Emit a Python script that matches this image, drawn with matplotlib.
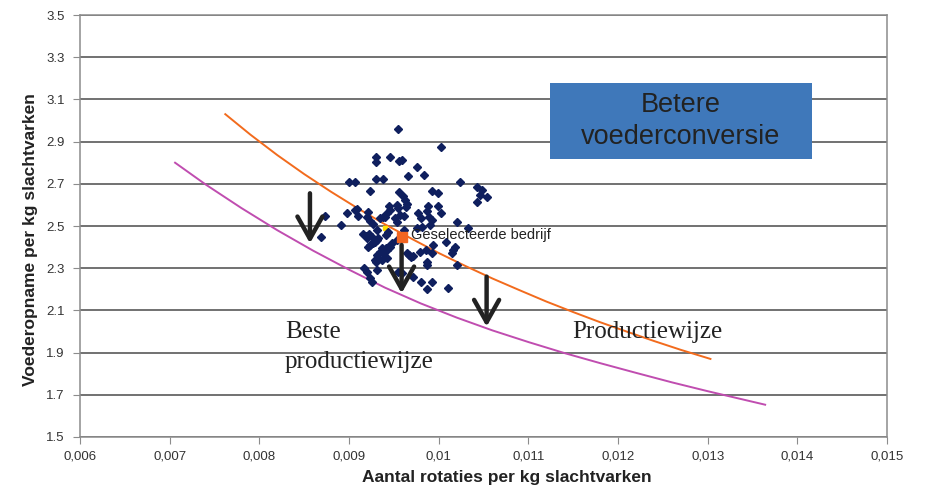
import matplotlib
matplotlib.use("Agg")
import matplotlib.pyplot as plt
from matplotlib.ticker import FuncFormatter, FixedLocator, MultipleLocator
from matplotlib.patches import Rectangle

plt.rcParams['font.family'] = ['Liberation Sans', 'DejaVu Sans']

# bedrijven: rotaties per kg (x, x1000) en voederopname per kg (y)
rot = [9.545, 10.025, 9.300, 9.300, 9.456, 9.556, 9.590, 9.757, 9.835, 9.657,
       9.300, 9.378, 8.999, 9.066, 10.236, 10.426, 10.482, 10.537, 10.459, 10.426,
       9.233, 9.556, 9.601, 9.623, 9.645, 9.924, 9.991, 9.445, 9.534, 9.634,
       9.088, 9.880, 9.991, 8.731, 8.910, 8.687, 8.977, 9.066, 9.099, 9.211,
       9.200, 9.344, 9.378, 9.456, 9.423, 9.400, 9.545, 9.567, 9.512, 9.534,
       9.612, 9.233, 9.266, 9.311, 9.155, 9.188, 9.222, 9.255, 9.200, 9.434,
       9.411, 9.768, 9.802, 9.868, 9.891, 9.924, 9.902, 10.025, 9.612, 9.757,
       9.813, 10.203, 10.326, 9.322, 9.289, 9.266, 9.233, 9.211, 9.311, 9.367,
       9.411, 9.434, 9.344, 9.378, 9.423, 9.456, 9.478, 9.534, 9.645, 9.690,
       9.668, 9.712, 9.790, 9.857, 9.924, 10.080, 10.158, 10.147, 9.311, 9.322,
       9.289, 9.367, 9.300, 9.423, 9.868, 9.868, 10.203, 9.311, 9.166, 9.200,
       9.233, 9.255, 9.545, 9.590, 9.712, 9.802, 9.924, 9.868, 10.103, 9.935,
       10.181]
voer = [2.960, 2.874, 2.827, 2.803, 2.827, 2.808, 2.813, 2.780, 2.742, 2.737,
        2.723, 2.723, 2.709, 2.709, 2.709, 2.685, 2.671, 2.637, 2.647, 2.614,
        2.666, 2.661, 2.642, 2.623, 2.604, 2.666, 2.656, 2.595, 2.600, 2.590,
        2.581, 2.595, 2.595, 2.547, 2.505, 2.448, 2.562, 2.576, 2.547, 2.566,
        2.543, 2.538, 2.543, 2.576, 2.562, 2.543, 2.585, 2.552, 2.538, 2.519,
        2.547, 2.524, 2.509, 2.481, 2.462, 2.453, 2.462, 2.448, 2.443, 2.472,
        2.457, 2.562, 2.538, 2.571, 2.543, 2.528, 2.505, 2.562, 2.481, 2.491,
        2.495, 2.519, 2.491, 2.443, 2.424, 2.419, 2.410, 2.400, 2.434, 2.396,
        2.396, 2.400, 2.377, 2.372, 2.386, 2.400, 2.419, 2.434, 2.372, 2.353,
        2.363, 2.358, 2.377, 2.386, 2.372, 2.424, 2.386, 2.372, 2.363, 2.348,
        2.339, 2.339, 2.329, 2.348, 2.329, 2.315, 2.315, 2.291, 2.301, 2.282,
        2.254, 2.235, 2.282, 2.277, 2.258, 2.235, 2.235, 2.201, 2.206, 2.410,
        2.400]
rot = [v / 1000 for v in rot]

# geselecteerde bedrijf
sel_x, sel_y = 0.009586, 2.449

# curve huidige productiewijze (oranje)
prod_x = [0.00762, 0.00790, 0.00820, 0.00850, 0.00880, 0.00910, 0.00940,
          0.00970, 0.01000, 0.01030, 0.01060, 0.01090, 0.01120, 0.01150,
          0.01180, 0.01210, 0.01240, 0.01270, 0.01303]
prod_y = [3.030, 2.933, 2.836, 2.746, 2.662, 2.583, 2.508, 2.439, 2.372, 2.310,
          2.251, 2.196, 2.142, 2.092, 2.044, 1.999, 1.955, 1.913, 1.870]

# curve beste productiewijze (paars)
best_x = [0.00706, 0.00740, 0.00780, 0.00820, 0.00860, 0.00900, 0.00940,
          0.00980, 0.01020, 0.01060, 0.01100, 0.01140, 0.01180, 0.01220,
          0.01260, 0.01300, 0.01340, 0.01364]
best_y = [2.800, 2.697, 2.585, 2.480, 2.383, 2.293, 2.208, 2.133, 2.066, 2.005,
          1.950, 1.898, 1.850, 1.804, 1.759, 1.717, 1.677, 1.653]

# pijlen (x, begin, eind)
arrow_x = [0.008564, 0.009586, 0.010534]
arrow_top = [2.655, 2.410, 2.260]
arrow_tip = [2.418, 2.181, 2.023]

y_ticks = [1.5, 1.7, 1.9, 2.1, 2.3, 2.5, 2.7, 2.9, 3.1, 3.3, 3.5]

fig = plt.figure(figsize=(9.26, 4.92), dpi=100)
ax = fig.add_axes([0.0864, 0.1118, 0.8716, 0.8577])

ax.set_xlim(0.006, 0.015)
ax.set_ylim(1.5, 3.5)
ax.xaxis.set_major_locator(MultipleLocator(0.001))
ax.yaxis.set_major_locator(FixedLocator(y_ticks))
ax.xaxis.set_major_formatter(FuncFormatter(lambda v, p: ('%g' % round(v, 4)).replace('.', ',')))
ax.yaxis.set_major_formatter(FuncFormatter(lambda v, p: '%.1f' % v))
ax.grid(axis='y', color='#4a4a4a', lw=1.1)
ax.set_axisbelow(True)
for s in ['left', 'bottom', 'right', 'top']:
    ax.spines[s].set_color('#8c8c8c')
    ax.spines[s].set_linewidth(1.1)
ax.tick_params(direction='out', length=5, color='#8c8c8c', labelsize=9.5, labelcolor='#333333')
ax.tick_params(axis='x', pad=5)
ax.tick_params(axis='y', pad=6)

ax.plot(prod_x, prod_y, color='#F26B1D', lw=1.4, zorder=3)
ax.plot(best_x, best_y, color='#C04DB0', lw=1.4, zorder=3)

ax.plot(rot, voer, 'D', color='#0F1F5E', markersize=3.8, ls='none', zorder=4)
ax.plot([0.00940], [2.491], 's', color='#FFE000', markersize=2.5, zorder=3.5)
ax.plot([sel_x], [sel_y], 's', color='#F26522', markersize=7, zorder=5)
ax.text(sel_x + 0.00010, sel_y + 0.01, 'Geselecteerde bedrijf', fontsize=10.5,
        color='#222222', va='center', ha='left', zorder=6)

for xa, y0, y1 in zip(arrow_x, arrow_top, arrow_tip):
    ax.annotate('', xy=(xa, y1), xytext=(xa, y0),
                arrowprops=dict(arrowstyle='->, head_length=0.8, head_width=0.45',
                                color='#222222', lw=3.2, mutation_scale=20,
                                shrinkA=0, shrinkB=0),
                zorder=6)

ax.add_patch(Rectangle((0.011240, 2.816), 0.014157 - 0.011240, 3.179 - 2.816,
                       facecolor='#3F78BA', edgecolor='none', zorder=6))
ax.text((0.011240 + 0.014157) / 2, (2.816 + 3.179) / 2, 'Betere\nvoederconversie',
        fontsize=19.5, color='#222222', ha='center', va='center', zorder=7,
        linespacing=1.3)

serif = ['Liberation Serif', 'DejaVu Serif']
ax.text(0.008285, 1.969, 'Beste', family=serif, fontsize=18,
        color='#222222', ha='left', va='baseline', zorder=6)
ax.text(0.008285, 1.827, 'productiewijze', family=serif, fontsize=18,
        color='#222222', ha='left', va='baseline', zorder=6)
ax.text(0.013168, 1.969, 'Productiewijze', family=serif, fontsize=18,
        color='#222222', ha='right', va='baseline', zorder=6)

ax.set_xlabel('Aantal rotaties per kg slachtvarken', fontsize=12.5, fontweight='bold',
              color='#222222')
ax.set_ylabel('Voederopname per kg slachtvarken', fontsize=12.5, fontweight='bold',
              color='#222222')
ax.xaxis.set_label_coords(0.529, -0.078)
ax.yaxis.set_label_coords(-0.052, 0.467)

fig.savefig('out.png', dpi=100)
